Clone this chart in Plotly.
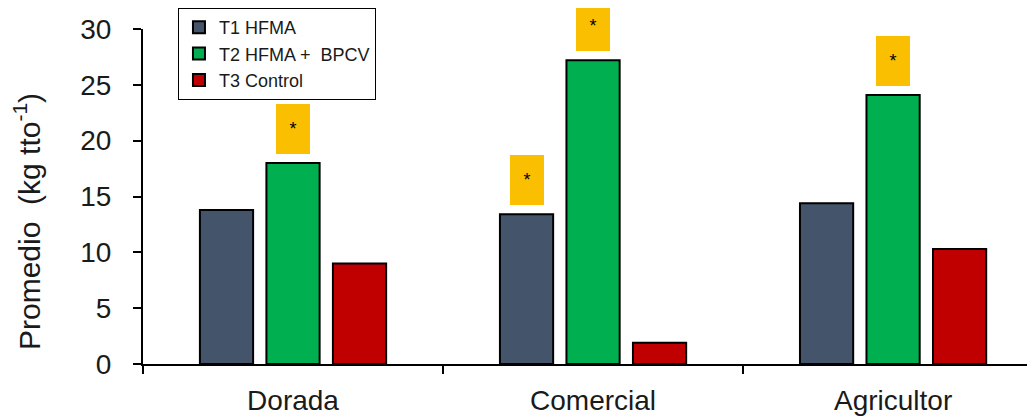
import plotly.graph_objects as go

categories = ["Dorada", "Comercial", "Agricultor"]
series_names = ["T1 HFMA", "T2 HFMA +  BPCV", "T3 Control"]
t1_values = [13.8, 13.4, 14.4]
t2_values = [18.0, 27.2, 24.1]
t3_values = [9.0, 1.9, 10.3]
colors = ["#44546A", "#00B050", "#C00000"]
y_ticks = [0, 5, 10, 15, 20, 25, 30]
y_title = "Promedio  (kg tto<sup>-1</sup>)"
# significance marks: (category, series index)
marks = [("Dorada", 1), ("Comercial", 0), ("Comercial", 1), ("Agricultor", 1)]

all_values = [t1_values, t2_values, t3_values]
FONT = "Liberation Sans, Arial"

fig = go.Figure()
for name, vals, col in zip(series_names, all_values, colors):
    fig.add_trace(go.Bar(
        x=categories, y=vals, name=name,
        marker=dict(color=col, line=dict(color="black", width=2)),
    ))

slot_px = 66.5
for cat, si in marks:
    val = all_values[si][categories.index(cat)]
    fig.add_annotation(
        x=cat, y=val, xref="x", yref="y",
        text="*", showarrow=False,
        xshift=(si - 1) * slot_px, yshift=9,
        yanchor="bottom", xanchor="center",
        bgcolor="#FAC000", borderpad=0, borderwidth=0,
        width=34, height=50, valign="middle",
        font=dict(size=18, color="black", family=FONT),
    )

# y-axis title
fig.add_annotation(
    x=-0.1300, y=0.424, xref="paper", yref="paper",
    text=y_title, textangle=-90, showarrow=False,
    xanchor="center", yanchor="middle",
    font=dict(size=30, color="#1a1a1a", family=FONT),
)

fig.update_layout(
    width=1027, height=411,
    margin=dict(l=135, r=0, t=21, b=55, autoexpand=False),
    paper_bgcolor="white", plot_bgcolor="white",
    barmode="group", bargap=0.335, bargroupgap=0.2,
    font=dict(family=FONT, color="#1a1a1a"),
    showlegend=True,
    legend=dict(
        xref="container", yref="container",
        x=0.1655, y=1.0, xanchor="left", yanchor="top",
        bordercolor="black", borderwidth=1, bgcolor="white",
        font=dict(size=18, color="#1a1a1a"),
        itemwidth=30, tracegroupgap=0,
    ),
    xaxis=dict(
        range=[-0.5, 2.473], showline=True, linecolor="black", linewidth=2,
        ticks="outside", tickson="boundaries", ticklen=8, tickwidth=2,
        tickcolor="black", tickfont=dict(size=28), showgrid=False,
        ticklabelstandoff=10, automargin=False,
    ),
    yaxis=dict(
        range=[0, 30], tickvals=y_ticks, showline=True, linecolor="black",
        linewidth=2, ticks="outside", ticklen=8, tickwidth=2, tickcolor="black",
        tickfont=dict(size=28), showgrid=False, zeroline=False,
        ticklabelstandoff=16, automargin=False,
    ),
)

fig.write_html("out.html")
